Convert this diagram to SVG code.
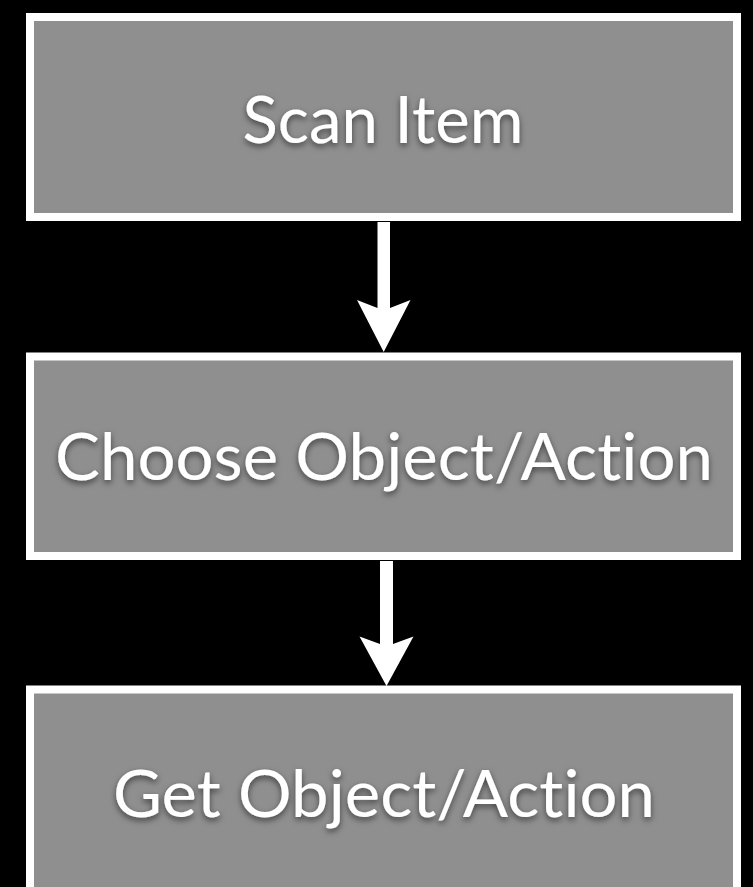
<svg xmlns="http://www.w3.org/2000/svg" width="753" height="887" viewBox="0 0 753 887">
<defs>
<style>
.box{fill:#8f8f8f;stroke:#ffffff;stroke-width:8}
.lbl{font-family:"Lato","Open Sans","Liberation Sans",sans-serif;font-size:65px;fill:#ffffff;text-anchor:middle;font-variant-ligatures:none;font-feature-settings:"liga" 0,"clig" 0;filter:url(#sh)}
.arr{fill:#ffffff}
</style>
<filter id="sh" x="-10%" y="-30%" width="120%" height="160%">
<feDropShadow dx="0" dy="3" stdDeviation="3" flood-color="#000" flood-opacity="0.55"/>
</filter>
</defs>
<rect x="0" y="0" width="753" height="887" fill="#000"/>
<g id="connectors">
<path class="arr" d="M377.5,222 L390,222 L390,308 L410.5,300 L383.7,352 L357,300 L377.5,308 Z"/>
<path class="arr" d="M380,561 L393,561 L393,644 L413.5,636.5 L386.5,686 L359.5,636.5 L380,644 Z"/>
</g>
<g id="scan">
<rect class="box" x="30" y="17" width="707" height="200"/>
<text class="lbl" x="383" y="143" textLength="281" lengthAdjust="spacingAndGlyphs">Scan Item</text>
</g>
<g id="choose">
<rect class="box" x="30" y="356.5" width="707" height="199.5"/>
<text class="lbl" x="384" y="480" textLength="658" lengthAdjust="spacingAndGlyphs">Choose Object/Action</text>
</g>
<g id="get">
<rect class="box" x="30" y="689.5" width="707" height="207"/>
<text class="lbl" x="384" y="817" textLength="542" lengthAdjust="spacingAndGlyphs">Get Object/Action</text>
</g>
</svg>
